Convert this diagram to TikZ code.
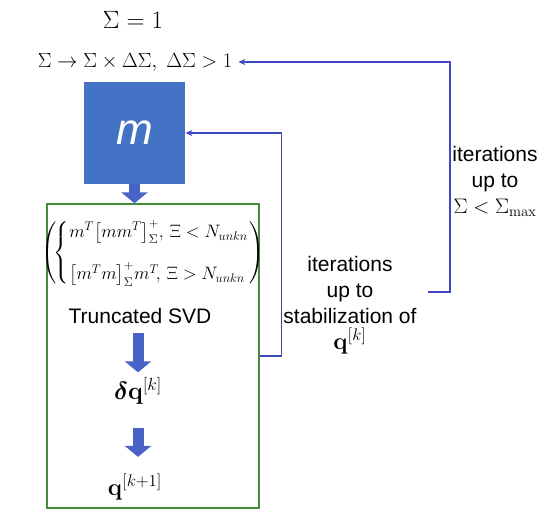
\RequirePackage{fix-cm}
\documentclass[tikz,border=0pt]{standalone}
\usepackage{amsmath}
\usepackage{bm}
\usepackage[no-math]{fontspec}
\setmainfont{Liberation Sans}
\usetikzlibrary{arrows.meta,positioning}

\definecolor{boxblue}{RGB}{68,114,196}
\definecolor{arrblue}{RGB}{72,98,200}
\definecolor{loopblue}{RGB}{62,72,195}
\definecolor{framegreen}{RGB}{70,140,60}

\tikzset{
	every picture/.style={line width=0.75pt},
	txt/.style={inner sep=0.75pt, align=center, font=\fontsize{21}{26}\selectfont},
	mth/.style={inner sep=0.75pt, font=\fontsize{21}{26}\selectfont},
	fatarr/.style={draw=arrblue, line width=11pt, -{Triangle[length=11pt,width=26pt]}, arrblue},
	loopline/.style={draw=loopblue, line width=1.3pt, -{Stealth[length=7pt,width=6pt]}},
}

\begin{document}
\begin{tikzpicture}[x=1pt,y=1pt,yscale=-1]
	\useasboundingbox (0,0) rectangle (550,526);
	
	% top labels
	\node[mth, font=\fontsize{25}{28}\selectfont] (sigone) at (133,20) {$\Sigma=1$};
	\node[mth, font=\fontsize{20.5}{24}\selectfont] (sigupd) at (135,62) {$\Sigma\rightarrow\Sigma\times\Delta\Sigma,\ \Delta\Sigma>1$};
	
	% m block
	\node[fill=boxblue, minimum width=101pt, minimum height=102pt, inner sep=0pt,
	text=white, font=\fontsize{44}{44}\selectfont\itshape] (mbox) at (134.5,133) {m};
	
	% green frame
	\node[draw=framegreen, line width=1.4pt, minimum width=212pt, minimum height=304pt, inner sep=0pt] (gbox) at (153,356) {};
	
	% inside the frame
	\node[mth, font=\fontsize{18}{22}\selectfont] (pinv) at (153,253) {$\left(\!\left\{\begin{array}{@{}l@{}}
			m^{T}\!\left[mm^{T}\right]^{+}_{\Sigma}\!,\,\Xi<N_{unkn}\\[18pt]
			\left[m^{T}m\right]^{+}_{\Sigma}\!m^{T}\!,\,\Xi>N_{unkn}
		\end{array}\right.\right)$};
	\node[txt] (svd) at (140,316) {Truncated SVD};
	\node[mth, font=\fontsize{25}{28}\selectfont] (dq) at (138,391) {$\bm{\delta}\mathbf{q}^{[k]}$};
	\node[mth, font=\fontsize{24}{28}\selectfont] (qnext) at (135,487) {$\mathbf{q}^{[k+1]}$};
	
	% loop labels
	\node[txt] (innerlbl) at (350,305) {iterations\\up to\\stabilization of\\{\fontsize{24}{26}\selectfont$\mathbf{q}^{[k]}$}};
	\node[txt] (outerlbl) at (495,181) {iterations\\up to\\$\Sigma<\Sigma_{\max}$};
	\coordinate (outstart) at (428,292);
	
	% block arrows
	\draw[fatarr] (mbox.south) -- (mbox.south |- gbox.north);
	\draw[fatarr, shorten <=8pt, shorten >=4pt] (svd.south -| dq) -- (dq.north);
	\draw[fatarr, shorten <=22pt, shorten >=16pt] (dq.south) -- (dq.south |- qnext.north);
	
	% feedback loops
	\draw[loopline] (gbox.east) -- ++(22,0) |- (mbox.east);
	\draw[loopline] (outstart) -- ++(22,0) |- ([xshift=5pt]sigupd.east);
	
\end{tikzpicture}
\end{document}
